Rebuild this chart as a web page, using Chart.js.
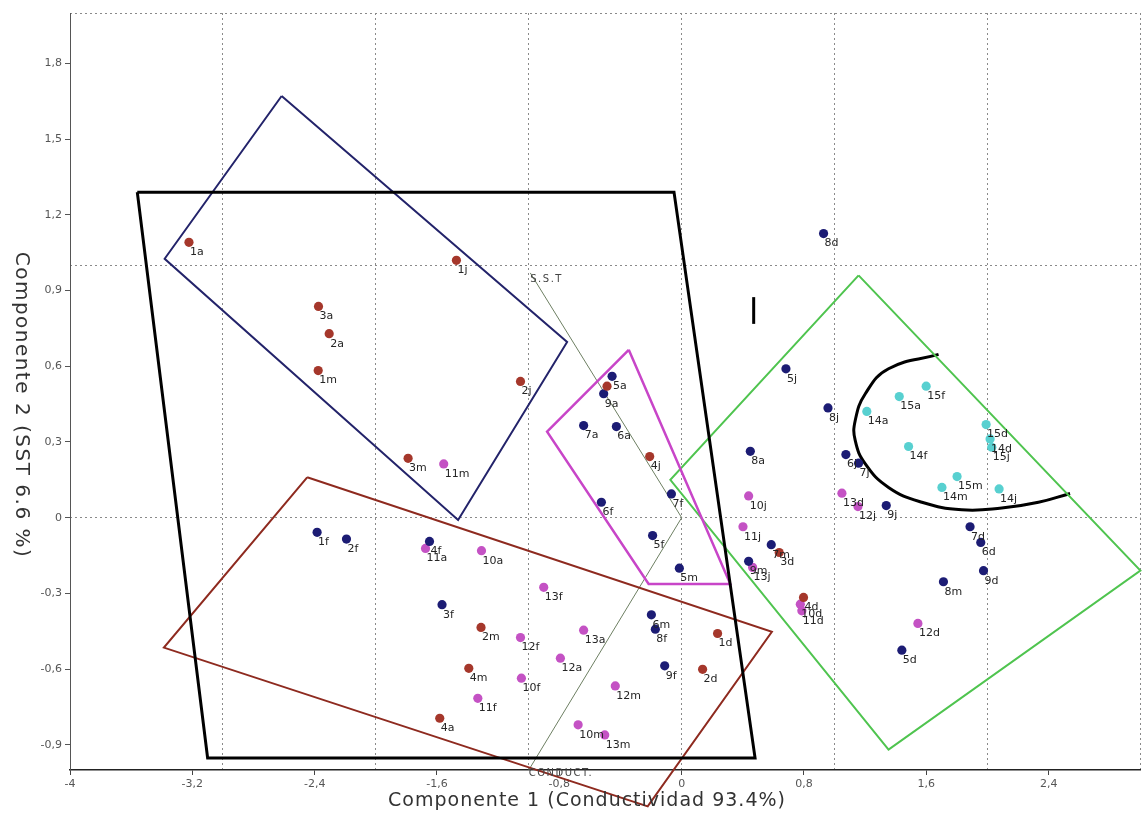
<!DOCTYPE html>
<html>
<head>
<meta charset="utf-8">
<script src="https://cdn.jsdelivr.net/npm/chart.js@4.4.1/dist/chart.umd.min.js"></script>
<style>
  html, body { margin: 0; padding: 0; background: #ffffff; }
  #wrap { width: 1145px; height: 821px; }
</style>
</head>
<body>
<div id="wrap"><canvas id="pca" width="1145" height="821"></canvas></div>
<script>
// ---- axes ----
const xRange = [-4, 3];
const yRange = [-1, 2];
const xTickValues = [-4, -3.2, -2.4, -1.6, -0.8, 0, 0.8, 1.6, 2.4];
const yTickValues = [-0.9, -0.6, -0.3, 0, 0.3, 0.6, 0.9, 1.2, 1.5, 1.8];
const xGridValues = [-3, -2, -1, 0, 1, 2, 3];
const yGridValues = [0, 1, 2];
const xTitle = 'Componente 1 (Conductividad 93.4%)';
const yTitle = 'Componente 2 (SST 6.6 %)';

// ---- sample scores, one group per marker colour ----
const redLabels = ['1a', '1j', '3a', '2a', '1m', '2j', '3m', '', '4j', '2m', '4m', '4a', '1d', '2d', '3d', '4d'];
const redX = [-3.222, -1.473, -2.375, -2.305, -2.377, -1.054, -1.789, -0.488, -0.209, -1.312, -1.392, -1.582, 0.235, 0.137, 0.638, 0.797];
const redY = [1.091, 1.020, 0.837, 0.729, 0.583, 0.540, 0.235, 0.521, 0.242, -0.435, -0.597, -0.795, -0.459, -0.601, -0.138, -0.316];

const navyLabels = ['1f', '2f', '3f', '4f', '5f', '6f', '7f', '8f', '9f',
  '5a', '6a', '7a', '8a', '9a', '5m', '6m', '7m', '8m', '9m',
  '5j', '6j', '7j', '8j', '9j', '5d', '6d', '7d', '8d', '9d'];
const navyX = [-2.384, -2.192, -1.567, -1.649, -0.190, -0.525, -0.067, -0.172, -0.111,
  -0.455, -0.427, -0.641, 0.449, -0.510, -0.015, -0.198, 0.586, 1.712, 0.438,
  0.682, 1.074, 1.157, 0.957, 1.338, 1.440, 1.956, 1.886, 0.928, 1.974];
const navyY = [-0.058, -0.085, -0.345, -0.094, -0.071, 0.061, 0.094, -0.442, -0.587,
  0.560, 0.361, 0.365, 0.263, 0.491, -0.200, -0.385, -0.107, -0.254, -0.173,
  0.590, 0.250, 0.216, 0.435, 0.048, -0.525, -0.098, -0.036, 1.126, -0.210];

const magentaLabels = ['10a', '11a', '12a', '13a', '10f', '11f', '12f', '13f', '10m', '11m',
  '12m', '13m', '10j', '11j', '12j', '13j', '10d', '11d', '12d', '13d'];
const magentaX = [-1.309, -1.675, -0.793, -0.641, -1.048, -1.333, -1.054, -0.902, -0.677, -1.556,
  -0.434, -0.503, 0.438, 0.401, 1.153, 0.464, 0.776, 0.786, 1.545, 1.048];
const magentaY = [-0.131, -0.122, -0.557, -0.446, -0.636, -0.716, -0.475, -0.276, -0.821, 0.213,
  -0.667, -0.861, 0.086, -0.036, 0.044, -0.197, -0.343, -0.369, -0.419, 0.097];

const cyanLabels = ['14a', '15a', '14f', '15f', '14m', '15m', '14j', '15j', '14d', '15d'];
const cyanX = [1.211, 1.423, 1.484, 1.599, 1.702, 1.801, 2.076, 2.028, 2.017, 1.991];
const cyanY = [0.421, 0.480, 0.282, 0.521, 0.120, 0.163, 0.114, 0.279, 0.312, 0.369];

// ---- group outlines ----
const frameX = [-3.56, -0.05, 0.48, -3.10, -3.56];
const frameY = [1.29, 1.29, -0.952, -0.952, 1.29];
const navyBoxX = [-2.616, -0.749, -1.462, -3.381, -2.616];
const navyBoxY = [1.671, 0.696, -0.009, 1.026, 1.671];
const brownBoxX = [-2.449, 0.590, -0.222, -3.386, -2.449];
const brownBoxY = [0.160, -0.452, -1.144, -0.515, 0.160];
const pinkBoxX = [-0.346, 0.318, -0.216, -0.880, -0.346];
const pinkBoxY = [0.665, -0.263, -0.263, 0.341, 0.665];
const greenBoxX = [1.157, 3.0, 1.353, -0.074, 1.157];
const greenBoxY = [0.960, -0.210, -0.919, 0.150, 0.960];
const arcX = [1.680, 1.353, 1.201, 1.135, 1.135, 1.201, 1.353, 1.571, 1.832, 2.093, 2.333, 2.540];
const arcY = [0.647, 0.590, 0.491, 0.385, 0.306, 0.213, 0.120, 0.061, 0.031, 0.038, 0.061, 0.096];
const markX = [0.471, 0.471];
const markY = [0.768, 0.874];

// ---- variable vectors (from the origin) ----
const vectorNames = ['S.S.T', 'CONDUCT.'];
const vectorX = [-0.99, -1.0];
const vectorY = [0.97, -1.0];

const FONT = "'DejaVu Sans', Verdana, sans-serif";

function pts(xs, ys) { return xs.map((x, i) => ({ x: x, y: ys[i] })); }

function pointSet(name, xs, ys, labels, color) {
  return {
    label: name, data: pts(xs, ys), pointLabels: labels,
    backgroundColor: color, borderColor: color,
    pointRadius: 4.6, pointHoverRadius: 4.6, borderWidth: 0,
    showLine: false, order: 1
  };
}

function outline(name, xs, ys, color, width, extra) {
  return Object.assign({
    label: name, data: pts(xs, ys), showLine: true, fill: false,
    borderColor: color, borderWidth: width, pointRadius: 0, pointHoverRadius: 0,
    tension: 0, clip: false, order: 2, borderJoinStyle: 'miter'
  }, extra || {});
}

const vectorSets = vectorNames.map((n, i) =>
  outline(n, [0, vectorX[i]], [0, vectorY[i]], '#6d7f62', 1));

const datasets = [
  outline('frame', frameX, frameY, '#000000', 3),
  outline('navyBox', navyBoxX, navyBoxY, '#23236a', 2),
  outline('brownBox', brownBoxX, brownBoxY, '#8e2a1f', 2),
  outline('pinkBox', pinkBoxX, pinkBoxY, '#c845c8', 2.5),
  outline('greenBox', greenBoxX, greenBoxY, '#4fc44f', 2),
  outline('arc', arcX, arcY, '#000000', 3, { tension: 0.45 }),
  outline('mark', markX, markY, '#000000', 3),
  ...vectorSets,
  pointSet('red', redX, redY, redLabels, '#a5372b'),
  pointSet('navy', navyX, navyY, navyLabels, '#1c1c74'),
  pointSet('magenta', magentaX, magentaY, magentaLabels, '#c452c4'),
  pointSet('cyan', cyanX, cyanY, cyanLabels, '#58d0d0')
];

const fmt = v => String(Number(v.toFixed(1))).replace('.', ',');

// sample names next to each marker
const pointLabelPlugin = {
  id: 'pointLabels',
  afterDatasetsDraw(chart) {
    const ctx = chart.ctx;
    ctx.save();
    ctx.font = '11px ' + FONT;
    ctx.fillStyle = '#252525';
    ctx.textAlign = 'left';
    ctx.textBaseline = 'middle';
    chart.data.datasets.forEach((ds, di) => {
      if (!ds.pointLabels) return;
      chart.getDatasetMeta(di).data.forEach((el, i) => {
        const t = ds.pointLabels[i];
        if (t) ctx.fillText(t, el.x + 1, el.y + 10);
      });
    });
    ctx.restore();
  }
};

// axis titles and vector names
const textPlugin = {
  id: 'texts',
  afterDraw(chart) {
    const ctx = chart.ctx;
    const xs = chart.scales.x, ys = chart.scales.y;
    ctx.save();
    ctx.fillStyle = '#444444';
    ctx.font = '10px ' + FONT;
    ctx.textAlign = 'left';
    ctx.textBaseline = 'middle';
    if ('letterSpacing' in ctx) ctx.letterSpacing = '1.5px';
    const offs = [7, 3];
    vectorNames.forEach((n, i) => {
      ctx.fillText(n, xs.getPixelForValue(vectorX[i]), ys.getPixelForValue(vectorY[i]) + offs[i]);
    });

    ctx.fillStyle = '#333333';
    ctx.font = '19px ' + FONT;
    if ('letterSpacing' in ctx) ctx.letterSpacing = '1px';
    ctx.textAlign = 'center';
    ctx.fillText(xTitle, 587, 801);
    ctx.font = '20px ' + FONT;
    if ('letterSpacing' in ctx) ctx.letterSpacing = '1.5px';
    ctx.translate(21, 405);
    ctx.rotate(Math.PI / 2);
    ctx.fillText(yTitle, 0, 0);
    ctx.restore();
  }
};

const zeroHeight = s => { s.height = 0; };
const zeroWidth = s => { s.width = 0; };

new Chart(document.getElementById('pca'), {
  type: 'scatter',
  data: { datasets: datasets },
  options: {
    responsive: false,
    animation: false,
    devicePixelRatio: 1,
    layout: { padding: { top: 13, right: 2, left: 0, bottom: 0 } },
    plugins: { legend: { display: false }, tooltip: { enabled: false } },
    events: [],
    scales: {
      x: {
        type: 'linear', position: 'bottom', min: xRange[0], max: xRange[1],
        afterBuildTicks: s => { s.ticks = xTickValues.map(v => ({ value: v })); },
        afterFit: s => { s.height = 51; },
        ticks: { callback: fmt, color: '#555555', font: { size: 11, family: FONT }, padding: 3, maxRotation: 0, autoSkip: false },
        grid: { drawOnChartArea: false, drawTicks: true, tickLength: 5, tickColor: '#444444', tickWidth: 1 },
        border: { display: true, color: '#222222', width: 1.5 }
      },
      y: {
        type: 'linear', position: 'left', min: yRange[0], max: yRange[1],
        afterBuildTicks: s => { s.ticks = yTickValues.map(v => ({ value: v })); },
        afterFit: s => { s.width = 70; },
        ticks: { callback: fmt, color: '#555555', font: { size: 11, family: FONT }, padding: 3, autoSkip: false },
        grid: { drawOnChartArea: false, drawTicks: true, tickLength: 5, tickColor: '#555555', tickWidth: 1 },
        border: { display: true, color: '#555555', width: 1 }
      },
      xg: {
        type: 'linear', position: 'bottom', min: xRange[0], max: xRange[1],
        afterBuildTicks: s => { s.ticks = xGridValues.map(v => ({ value: v })); },
        afterFit: zeroHeight,
        ticks: { display: false },
        grid: { color: '#8a8a8a', lineWidth: 1, drawTicks: false },
        border: { display: false, dash: [2, 3] }
      },
      yg: {
        type: 'linear', position: 'left', min: yRange[0], max: yRange[1],
        afterBuildTicks: s => { s.ticks = yGridValues.map(v => ({ value: v })); },
        afterFit: zeroWidth,
        ticks: { display: false },
        grid: { color: '#8a8a8a', lineWidth: 1, drawTicks: false },
        border: { display: false, dash: [2, 3] }
      }
    }
  },
  plugins: [pointLabelPlugin, textPlugin]
});
</script>
</body>
</html>
